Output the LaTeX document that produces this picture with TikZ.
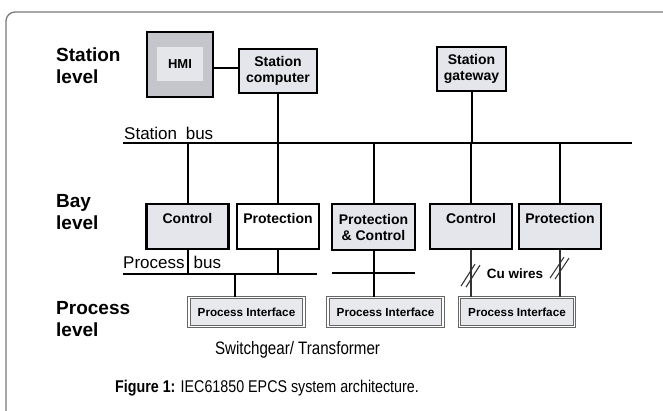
\documentclass[tikz,border=0pt]{standalone}
\usepackage{fontspec}
\setmainfont{Liberation Sans}
\newfontfamily\narrowsf[FakeStretch=0.84]{Liberation Sans}
\usetikzlibrary{calc}
\definecolor{boxgray}{RGB}{229,230,235}
\definecolor{hmigray}{RGB}{197,198,204}
\definecolor{hmiinner}{RGB}{229,230,234}
\definecolor{pifill}{RGB}{232,233,237}
\definecolor{framec}{RGB}{120,120,120}
\begin{document}
\begin{tikzpicture}[x=1pt,y=-1pt,
  bay/.style={draw=black, line width=2.2pt, fill=boxgray, minimum width=82pt, minimum height=45pt,
    inner sep=0pt, font=\bfseries\fontsize{14}{16}\selectfont, text height=10pt, text depth=17pt},
  baytwo/.style={draw=black, line width=2.2pt, fill=boxgray, minimum width=83pt, minimum height=46pt,
    inner sep=0pt, align=center, font=\bfseries\fontsize{14}{16}\selectfont},
  stn/.style={draw=black, line width=2.2pt, fill=boxgray, inner sep=0pt, align=center,
    font=\bfseries\fontsize{14}{16}\selectfont},
  hmibox/.style={draw=black, line width=2.5pt, fill=hmigray, minimum width=66pt, minimum height=65pt, inner sep=0pt},
  hmiin/.style={fill=hmiinner, minimum width=46pt, minimum height=34pt, inner sep=0pt,
    font=\bfseries\fontsize{13}{15}\selectfont},
  pif/.style={draw=black!60, double=white, double distance=1.3pt, line width=0.9pt, fill=pifill,
    minimum width=115pt, minimum height=29pt, inner sep=0pt, font=\bfseries\fontsize{11.7}{13}\selectfont},
  lvl/.style={anchor=west, align=left, inner sep=0pt, font=\bfseries\fontsize{19}{22}\selectfont},
  buslbl/.style={anchor=base west, inner sep=0pt, font=\fontsize{17}{20}\selectfont},
  bus/.style={line width=2.3pt},
  wire/.style={line width=2pt},
  cu/.style={line width=1.1pt, black!80}
]
\useasboundingbox (0,0) rectangle (663,410);
% frame
\draw[framec, line width=1.3pt, rounded corners=9pt] (6,412) -- (6,12) -- (665,12);

% level labels
\node[lvl] (lstation) at (56,66) {Station\\level};
\node[lvl] (lbay) at (56,212) {Bay\\level};
\node[lvl] (lprocess) at (56,319) {Process\\level};

% station level
\node[hmibox] (hmi) at (180,64.5) {};
\node[hmiin] (hmiin) at (180,64) {HMI};
\node[stn, minimum width=78pt, minimum height=44pt] (sc) at (278,71) {Station\\computer};
\node[stn, minimum width=69pt, minimum height=44pt] (gw) at (471.5,69) {Station\\gateway};

% station bus
\coordinate (sbL) at (123,143);
\coordinate (sbR) at (632,143);
\draw[bus] (sbL) -- (sbR);
\node[buslbl] (sblbl) at (124,139) {Station\hspace{4pt} bus};

\draw[wire] (hmi.east |- 0,68) -- (sc.west |- 0,68);
\draw[wire] (sc.south) -- (sc.south |- sbL);
\draw[wire] (gw.south) -- (gw.south |- sbL);

% bay level
\node[bay] (c1) at (187.5,226.5) {Control};
\node[bay, fill=white] (p1) at (278,226.5) {Protection};
\node[baytwo] (pc) at (373.5,227) {Protection\\\& Control};
\node[bay] (c2) at (471,226.5) {Control};
\node[bay] (p2) at (560,226.5) {Protection};

\draw[wire] (c1.north) -- (c1.north |- sbL);
\draw[wire] (p1.north) -- (p1.north |- sbL);
\draw[wire] (pc.north) -- (pc.north |- sbL);
\draw[wire] (c2.north) -- (c2.north |- sbL);
\draw[wire] (p2.north) -- (p2.north |- sbL);

% process bus
\coordinate (pbL) at (123,274);
\coordinate (pbR) at (317,274);
\coordinate (pbT) at (235,274);
\draw[bus] (pbL) -- (pbR);
\node[buslbl] (pblbl) at (123,268) {Process\hspace{9pt}bus};
\draw[wire] (c1.south) -- (c1.south |- pbL);
\draw[wire] (p1.south) -- (p1.south |- pbL);

% process level
\node[pif] (pi1) at (246.5,312) {Process Interface};
\node[pif] (pi2) at (385.5,312) {Process Interface};
\node[pif] (pi3) at (517,312) {Process Interface};

\draw[wire] (pbT) -- (pbT |- pi1.north);

\coordinate (sb2L) at (332,273);
\coordinate (sb2R) at (415,273);
\draw[bus] (sb2L) -- (sb2R);
\draw[wire] (pc.south) -- (pc.south |- pi2.north);

% Cu wires
\draw[cu] (c2.south) -- (c2.south |- pi3.north);
\draw[cu] (p2.south) -- (p2.south |- pi3.north);
\draw[cu] ($(c2.south)+(-10,36)$) -- ($(c2.south)+(4,14)$);
\draw[cu] ($(c2.south)+(-5,37)$) -- ($(c2.south)+(9,15)$);
\draw[cu] ($(p2.south)+(-10,28)$) -- ($(p2.south)+(4,7)$);
\draw[cu] ($(p2.south)+(-5,29)$) -- ($(p2.south)+(9,8)$);
\node[font=\bfseries\fontsize{13.5}{15}\selectfont, inner sep=0pt] (cu) at (515,274) {Cu wires};

% captions
\node[font=\narrowsf\fontsize{18}{20}\selectfont, inner sep=0pt] (sw) at (297.5,350) {Switchgear/ Transformer};
\node[font=\narrowsf\fontsize{17}{20}\selectfont, inner sep=0pt] (cap) at (267,388) {\textbf{Figure 1:} IEC61850 EPCS system architecture.};
\end{tikzpicture}
\end{document}
